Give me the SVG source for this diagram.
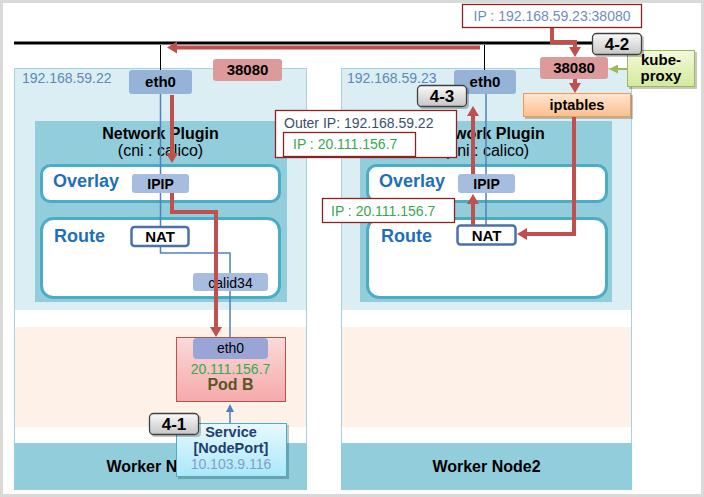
<svg xmlns="http://www.w3.org/2000/svg" width="704" height="497" viewBox="0 0 704 497">
<defs>
<linearGradient id="gPod" x1="0" y1="0" x2="0" y2="1"><stop offset="0" stop-color="#fbdada"/><stop offset="1" stop-color="#f5a9a9"/></linearGradient>
<linearGradient id="gSvc" x1="0" y1="0" x2="0" y2="1"><stop offset="0" stop-color="#e8f9fd"/><stop offset="1" stop-color="#a9e8f9"/></linearGradient>
<linearGradient id="gIpt" x1="0" y1="0" x2="0" y2="1"><stop offset="0" stop-color="#fee6d2"/><stop offset="1" stop-color="#fbbf8c"/></linearGradient>
<linearGradient id="gKp" x1="0" y1="0" x2="0" y2="1"><stop offset="0" stop-color="#f2f9dc"/><stop offset="1" stop-color="#d3ea9b"/></linearGradient>
<linearGradient id="gTag" x1="0" y1="0" x2="0" y2="1"><stop offset="0" stop-color="#fafafa"/><stop offset="1" stop-color="#c6c6c6"/></linearGradient>
<marker id="mRed" viewBox="0 0 10 12" refX="3" refY="6" markerWidth="10" markerHeight="12" markerUnits="userSpaceOnUse" orient="auto"><path d="M0,0 L10,6 L0,12 z" fill="#c0504d"/></marker>
<marker id="mBlue" viewBox="0 0 8 8" refX="2" refY="4" markerWidth="8" markerHeight="8" markerUnits="userSpaceOnUse" orient="auto"><path d="M0,0 L8,4 L0,8 z" fill="#4f81bd"/></marker>
<marker id="mGreen" viewBox="0 0 9 9" refX="2" refY="4.5" markerWidth="9" markerHeight="9" markerUnits="userSpaceOnUse" orient="auto"><path d="M0,0 L9,4.5 L0,9 z" fill="#9bbb59"/></marker>
</defs>
<style>
text{font-family:"Liberation Sans",Arial,sans-serif}
.b{font-weight:bold}
.c{text-anchor:middle}
.nodeBox{fill:#ffffff;stroke:#a9d0de;stroke-width:1}
.nodeTop{fill:#daeef3}
.peach{fill:#fdf1e8}
.band{fill:#92cddc}
.plugin{fill:#92cddc}
.layer{fill:#ffffff;stroke:#4bacc6;stroke-width:3}
.eth{fill:#95b3d7}
.light{fill:#a7bde0}
.nat{fill:#ffffff;stroke:#4a72a8;stroke-width:2.5}
.port{fill:#dc9b9a}
.ipbox{fill:#ffffff;stroke:#8b2323;stroke-width:1.3}
.tag{fill:url(#gTag);stroke:#404040;stroke-width:1.3}
.shadow{fill:#000;opacity:0.22}
.lay{font-size:18px;font-weight:bold;fill:#1f6fb8}
.addr{font-size:14px;fill:#5b88bd}
.green{fill:#35a852}
.red{fill:none;stroke:#c0504d;stroke-width:4}
.blue{fill:none;stroke:#4f81bd;stroke-width:1.5}
.blk{fill:none;stroke:#000;stroke-width:1}
</style>
<rect x="1.5" y="1.5" width="701" height="494" fill="#ffffff" stroke="#d9d9d9" stroke-width="3"/>

<g id="worker1">
<rect class="nodeBox" x="14.5" y="68.5" width="292" height="421"/>
<rect class="nodeTop" x="15" y="69" width="291" height="241"/>
<rect class="peach" x="15" y="327" width="291" height="100"/>
<rect class="band" x="14" y="443" width="293" height="47"/>
<text class="addr" x="22" y="83">192.168.59.22</text>
<rect class="plugin" x="35" y="121" width="252" height="181"/>
<text class="b c" x="160.5" y="139" font-size="16">Network Plugin</text>
<text class="c" x="160.5" y="156" font-size="16">(cni : calico)</text>
<rect class="layer" x="41.5" y="165.5" width="238" height="36" rx="9"/>
<text class="lay" x="53" y="187">Overlay</text>
<rect class="layer" x="41.5" y="218.5" width="238" height="79" rx="12"/>
<text class="lay" x="54" y="242">Route</text>
<text class="b c" x="160.5" y="472" font-size="16">Worker Node1</text>
</g>

<g id="worker2">
<rect class="nodeBox" x="341.5" y="68.5" width="290" height="421"/>
<rect class="nodeTop" x="342" y="69" width="289" height="241"/>
<rect class="peach" x="342" y="327" width="289" height="100"/>
<rect class="band" x="341" y="443" width="291" height="47"/>
<text class="addr" x="347" y="83">192.168.59.23</text>
<rect class="plugin" x="360" y="121" width="252" height="181"/>
<text class="b c" x="486.5" y="139" font-size="16">Network Plugin</text>
<text class="c" x="486.5" y="156" font-size="16">(cni : calico)</text>
<rect class="layer" x="367.5" y="165.5" width="239" height="36" rx="9"/>
<text class="lay" x="379" y="187">Overlay</text>
<rect class="layer" x="367.5" y="218.5" width="239" height="79" rx="12"/>
<text class="lay" x="381" y="242">Route</text>
<text class="b c" x="486.5" y="472" font-size="16">Worker Node2</text>
</g>

<g id="connectors">
<path d="M14,43 H592" fill="none" stroke="#000" stroke-width="3"/>
<path class="blk" d="M160.5,45 V70"/>
<path class="blk" d="M484.5,45 V70"/>
<path class="blue" d="M160.5,94 V174"/>
<path class="blue" d="M160.5,193 V227"/>
<path class="blue" d="M160.5,246 V253 H230 V273"/>
<path class="blue" d="M230,291 V338"/>
<path class="blue" d="M486,94 V174"/>
<path class="blue" d="M486,193 V226"/>
<path class="blue" d="M230,423 V410" marker-end="url(#mBlue)"/>
<path d="M627,69 H616" fill="none" stroke="#9bbb59" stroke-width="2" marker-end="url(#mGreen)"/>
</g>

<g id="eth0-n1"><rect class="eth" x="129" y="70" width="63" height="24" rx="3"/><text class="b c" x="160.5" y="87" font-size="15">eth0</text></g>
<g id="eth0-n2"><rect class="eth" x="454" y="70" width="62" height="24" rx="3"/><text class="b c" x="485" y="87" font-size="15">eth0</text></g>
<g id="port-n1"><rect class="port" x="213" y="59" width="69" height="22" rx="3"/><text class="b c" x="247.5" y="75" font-size="15">38080</text></g>
<g id="port-n2"><rect class="port" x="540" y="57" width="68" height="22" rx="3"/><text class="b c" x="574" y="73" font-size="15">38080</text></g>
<g id="iptables"><rect class="shadow" x="525" y="95" width="108" height="24"/><rect x="523.5" y="93.5" width="107" height="23" fill="url(#gIpt)" stroke="#f79646" stroke-width="1"/><text class="b c" x="577" y="110" font-size="14.5">iptables</text></g>
<g id="kube-proxy"><rect class="shadow" x="629" y="52" width="68" height="37"/><rect x="627.5" y="50.5" width="67" height="36" fill="url(#gKp)" stroke="#9bbb59" stroke-width="1"/><text class="b c" x="661" y="65" font-size="15">kube-</text><text class="b c" x="661" y="81" font-size="15">proxy</text></g>
<g id="ipip-n1"><rect class="light" x="132" y="174" width="57" height="19" rx="3"/><text class="b c" x="160.5" y="189" font-size="14">IPIP</text></g>
<g id="ipip-n2"><rect class="light" x="458" y="174" width="57" height="19" rx="3"/><text class="b c" x="486.5" y="189" font-size="14">IPIP</text></g>
<g id="nat-n1"><rect class="nat" x="131.5" y="227" width="57" height="19" rx="3"/><text class="b c" x="160" y="242" font-size="15">NAT</text></g>
<g id="nat-n2"><rect class="nat" x="457.5" y="225.5" width="58" height="19" rx="3"/><text class="b c" x="486.5" y="240.5" font-size="15">NAT</text></g>
<g id="calid34"><rect class="light" x="193" y="273" width="75" height="18" rx="3"/><text class="c" x="230.5" y="288" font-size="14">calid34</text></g>
<g id="podB">
<rect x="176.5" y="337.5" width="109" height="64" fill="url(#gPod)" stroke="#c0504d" stroke-width="1"/>
<rect x="193" y="338" width="75" height="21" rx="4" fill="#98a5d6"/>
<text class="c" x="230.5" y="353" font-size="14">eth0</text>
<text class="c green" x="230.5" y="374" font-size="14">20.111.156.7</text>
<text class="b c" x="230.5" y="390" font-size="16" fill="#5a5626">Pod  B</text>
</g>
<g id="service">
<rect class="shadow" x="178" y="425" width="111" height="54"/>
<rect x="176.5" y="423.5" width="110" height="53" fill="url(#gSvc)" stroke="#4bacc6" stroke-width="1"/>
<text class="b c" x="231" y="437" font-size="14.5" fill="#1f3d6e">Service</text>
<text class="b c" x="231" y="453" font-size="14.5" fill="#1f3d6e">[NodePort]</text>
<text class="c" x="231" y="469" font-size="14" fill="#7f9fc9">10.103.9.116</text>
</g>

<g id="red-flow">
<path class="red" d="M552,28 V42 H575 V50" marker-end="url(#mRed)"/>
<path class="red" d="M575,79 V86" marker-end="url(#mRed)"/>
<path class="red" d="M574,117 V234 H524" marker-end="url(#mRed)"/>
<path class="red" d="M473,225 V201" marker-end="url(#mRed)"/>
<path class="red" d="M473,174 V113" marker-end="url(#mRed)"/>
<path class="red" d="M480,47.5 H174" marker-end="url(#mRed)"/>
<path class="red" d="M172,95 V156" marker-end="url(#mRed)"/>
<path class="red" d="M172,193 V212 H216 V330" marker-end="url(#mRed)"/>
</g>

<g id="ip-target"><rect class="ipbox" x="462.5" y="4.5" width="179" height="23"/><text class="c" x="552" y="21" font-size="14" fill="#6b8ec0">IP : 192.168.59.23:38080</text></g>
<g id="outer-ip">
<rect class="ipbox" x="275.5" y="110.5" width="181" height="47"/>
<text x="284" y="128" font-size="14" fill="#3b4f6b">Outer IP: 192.168.59.22</text>
<rect class="ipbox" x="283.5" y="132.5" width="132" height="24"/>
<text class="green" x="293" y="149" font-size="14">IP : 20.111.156.7</text>
</g>
<g id="inner-ip"><rect class="ipbox" x="322.5" y="198.5" width="132" height="24"/><text class="green" x="331" y="216" font-size="14">IP : 20.111.156.7</text></g>

<g id="tag-4-1"><rect class="shadow" x="151" y="415" width="50" height="22" rx="4"/><rect class="tag" x="149.5" y="413.5" width="49" height="21" rx="4"/><text class="b c" x="174" y="430" font-size="17">4-1</text></g>
<g id="tag-4-2"><rect class="shadow" x="594" y="35" width="50" height="22" rx="4"/><rect class="tag" x="592.5" y="33.5" width="49" height="21" rx="4"/><text class="b c" x="617" y="50" font-size="17">4-2</text></g>
<g id="tag-4-3"><rect class="shadow" x="419" y="87" width="50" height="22" rx="4"/><rect class="tag" x="417.5" y="85.5" width="49" height="21" rx="4"/><text class="b c" x="442" y="102" font-size="17">4-3</text></g>
</svg>
